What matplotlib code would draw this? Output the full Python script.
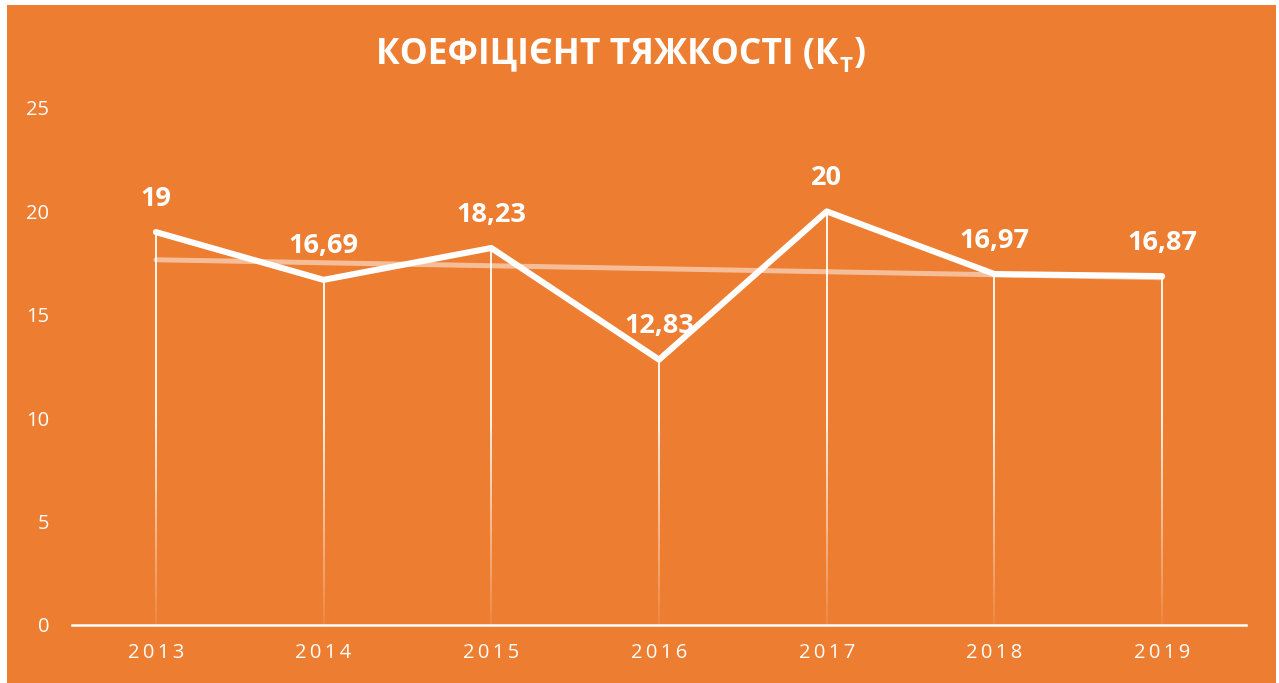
import numpy as np
import matplotlib
matplotlib.use("Agg")
import matplotlib.pyplot as plt
from matplotlib.patches import Rectangle
from matplotlib.collections import LineCollection

years = ["2013", "2014", "2015", "2016", "2017", "2018", "2019"]
values = [19, 16.69, 18.23, 12.83, 20, 16.97, 16.87]
labels = ["19", "16,69", "18,23", "12,83", "20", "16,97", "16,87"]
yticks = [0, 5, 10, 15, 20, 25]
title_main = "КОЕФІЦІЄНТ ТЯЖКОСТІ (К"
title_sub = "Т"
title_end = ")"

ORANGE = "#ED7D31"
W, H = 1279, 683
fig = plt.figure(figsize=(W / 100, H / 100), dpi=100, facecolor="white")
fig.patches.append(Rectangle((7 / W, 0), (1276 - 7) / W, (683 - 5) / H,
                             transform=fig.transFigure, facecolor=ORANGE,
                             edgecolor="none", zorder=-10))

ax = fig.add_axes([72 / W, (H - 625) / H, (1246 - 72) / W, (625 - 108) / H])
ax.set_zorder(1)
ax.set_facecolor("none")
x = np.arange(len(years))
ax.set_xlim(-0.5, len(years) - 0.5)
ax.set_ylim(0, 25)

# drop lines with fading gradient
segs, cols = [], []
for xi, v in zip(x, values):
    ys = np.linspace(0, v, 80)
    for a, b in zip(ys[:-1], ys[1:]):
        segs.append([(xi, a), (xi, b)])
        m = (a + b) / 2
        alpha = min(1.0, 0.08 + m / 11.0)
        cols.append((1, 1, 1, alpha))
ax.add_collection(LineCollection(segs, colors=cols, linewidths=1.3, zorder=2,
                                 capstyle="butt"))

# trend line
k, b0 = np.polyfit(x, values, 1)
ax.plot(x, k * x + b0, color="white", alpha=0.5, lw=3.6, zorder=3,
        solid_capstyle="round")

# main line
ax.plot(x, values, color="white", lw=4.4, zorder=4,
        solid_capstyle="round", solid_joinstyle="round")

for xi, v, lab in zip(x, values, labels):
    ax.annotate(lab, (xi, v), xytext=(0, 19), textcoords="offset points",
                ha="center", va="baseline", color="white", fontsize=19.5,
                fontweight="bold", family="Open Sans", zorder=5)

for s in ["top", "left", "right"]:
    ax.spines[s].set_visible(False)
ax.spines["bottom"].set_color("white")
ax.spines["bottom"].set_linewidth(1.8)
ax.spines["bottom"].set_zorder(5)

ax.set_xticks(x)
ax.set_xticklabels(["\u2009".join(list(y)) for y in years], family="Open Sans",
                   fontsize=14.5, color="white")
ax.set_yticks(yticks)
ax.set_yticklabels([str(t) for t in yticks], family="Open Sans",
                   fontsize=14.5, color="white")
ax.tick_params(axis="both", length=0)
ax.tick_params(axis="x", pad=13)
ax.tick_params(axis="y", pad=16.5)

# title with subscript
fig.canvas.draw()
r = fig.canvas.get_renderer()
ty = (H - 63) / H
t1 = fig.text(0, ty, title_main, color="white", fontsize=25.5, fontweight="bold",
              family="Open Sans", ha="left", va="baseline")
e1 = t1.get_window_extent(r)
t2 = fig.text(e1.x1 / W + 1 / W, ty - 9 / H, title_sub, color="white", fontsize=16,
              fontweight="bold", family="Open Sans", ha="left", va="baseline")
e2 = t2.get_window_extent(r)
t3 = fig.text(e2.x1 / W + 2 / W, ty, title_end, color="white", fontsize=25.5,
              fontweight="bold", family="Open Sans", ha="left", va="baseline")
e3 = t3.get_window_extent(r)
total = e3.x1 - e1.x0
shift = 621 - total / 2
for t in (t1, t2, t3):
    px, py = t.get_position()
    t.set_position((px + shift / W, py))

fig.savefig("out.png", dpi=100, facecolor="white")
